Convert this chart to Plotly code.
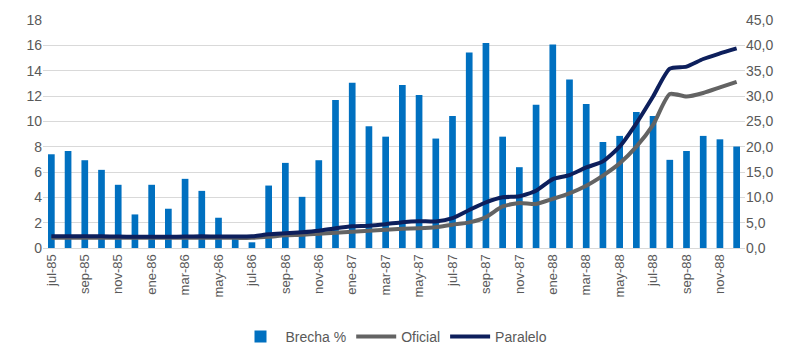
import plotly.graph_objects as go

months = ["jul-85","ago-85","sep-85","oct-85","nov-85","dic-85",
          "ene-86","feb-86","mar-86","abr-86","may-86","jun-86",
          "jul-86","ago-86","sep-86","oct-86","nov-86","dic-86",
          "ene-87","feb-87","mar-87","abr-87","may-87","jun-87",
          "jul-87","ago-87","sep-87","oct-87","nov-87","dic-87",
          "ene-88","feb-88","mar-88","abr-88","may-88","jun-88",
          "jul-88","ago-88","sep-88","oct-88","nov-88","dic-88"]

brecha = [7.40, 7.66, 6.93, 6.17, 4.99, 2.65,
          4.99, 3.10, 5.46, 4.51, 2.39, 0.80,
          0.45, 4.93, 6.72, 4.04, 6.93, 11.68,
          13.04, 9.61, 8.79, 12.86, 12.07, 8.64,
          10.42, 15.43, 16.19, 8.79, 6.38, 11.31,
          16.06, 13.31, 11.36, 8.37, 8.85, 10.73,
          10.42, 6.96, 7.66, 8.85, 8.58, 8.01]

oficial = [2.0, 2.0, 2.0, 2.0, 2.0, 2.0,
           2.0, 2.0, 2.0, 2.0, 2.0, 2.0,
           2.0, 2.2, 2.5, 2.6, 2.8, 3.0,
           3.2, 3.4, 3.6, 3.8, 3.9, 4.1,
           4.6, 5.05, 6.1, 8.2, 8.9, 8.7,
           9.7, 10.8, 12.3, 14.3, 16.7, 20.0,
           24.3, 30.4, 29.9, 30.6, 31.7, 32.8]

paralelo = [2.3, 2.3, 2.3, 2.3, 2.25, 2.2,
            2.2, 2.2, 2.25, 2.3, 2.25, 2.25,
            2.3, 2.7, 2.9, 3.1, 3.4, 3.9,
            4.3, 4.4, 4.7, 5.1, 5.3, 5.25,
            5.9, 7.5, 9.0, 10.0, 10.2, 11.3,
            13.6, 14.4, 15.9, 17.1, 20.0, 24.6,
            29.9, 35.4, 35.8, 37.3, 38.4, 39.4]

tick_labels = months[::2]

fig = go.Figure()
fig.add_trace(go.Bar(x=months, y=brecha, name="Brecha %",
                     marker=dict(color="#0070C0", line=dict(width=0)),
                     yaxis="y"))
fig.add_trace(go.Scatter(x=months, y=oficial, name="Oficial", mode="lines",
                         line=dict(color="#636363", width=4, shape="spline", smoothing=0.6),
                         yaxis="y2"))
fig.add_trace(go.Scatter(x=months, y=paralelo, name="Paralelo", mode="lines",
                         line=dict(color="#0D1F5C", width=4, shape="spline", smoothing=0.6),
                         yaxis="y2"))

fig.update_layout(
    width=784, height=347,
    margin=dict(l=35, r=47, t=12, b=107, autoexpand=False),
    paper_bgcolor="white", plot_bgcolor="white",
    separators=",.",
    bargap=0.6,
    font=dict(family="Liberation Sans", size=13, color="#595959"),
    xaxis=dict(type="category", tickmode="array", tickvals=tick_labels,
               ticktext=tick_labels, tickangle=-90, showgrid=False,
               showline=True, linecolor="#D9D9D9", linewidth=1,
               ticks="", tickfont=dict(size=13, color="#595959"),
               range=[-0.5, 41.5], automargin=False),
    yaxis=dict(range=[0, 18], dtick=2, showgrid=True, gridcolor="#D9D9D9",
               gridwidth=1, zeroline=False, ticks="", automargin=False,
               tickfont=dict(size=14, color="#595959")),
    yaxis2=dict(range=[0, 45], dtick=5, overlaying="y", side="right",
                showgrid=False, zeroline=False, tickformat=".1f", ticks="",
                automargin=False,
                tickfont=dict(size=14, color="#595959")),
    legend=dict(orientation="h", x=0.5, xanchor="center", y=-0.39, yanchor="middle",
                font=dict(size=14, color="#595959"), itemwidth=40,
                traceorder="normal"),
    showlegend=True,
)

fig.write_html("out.html")
